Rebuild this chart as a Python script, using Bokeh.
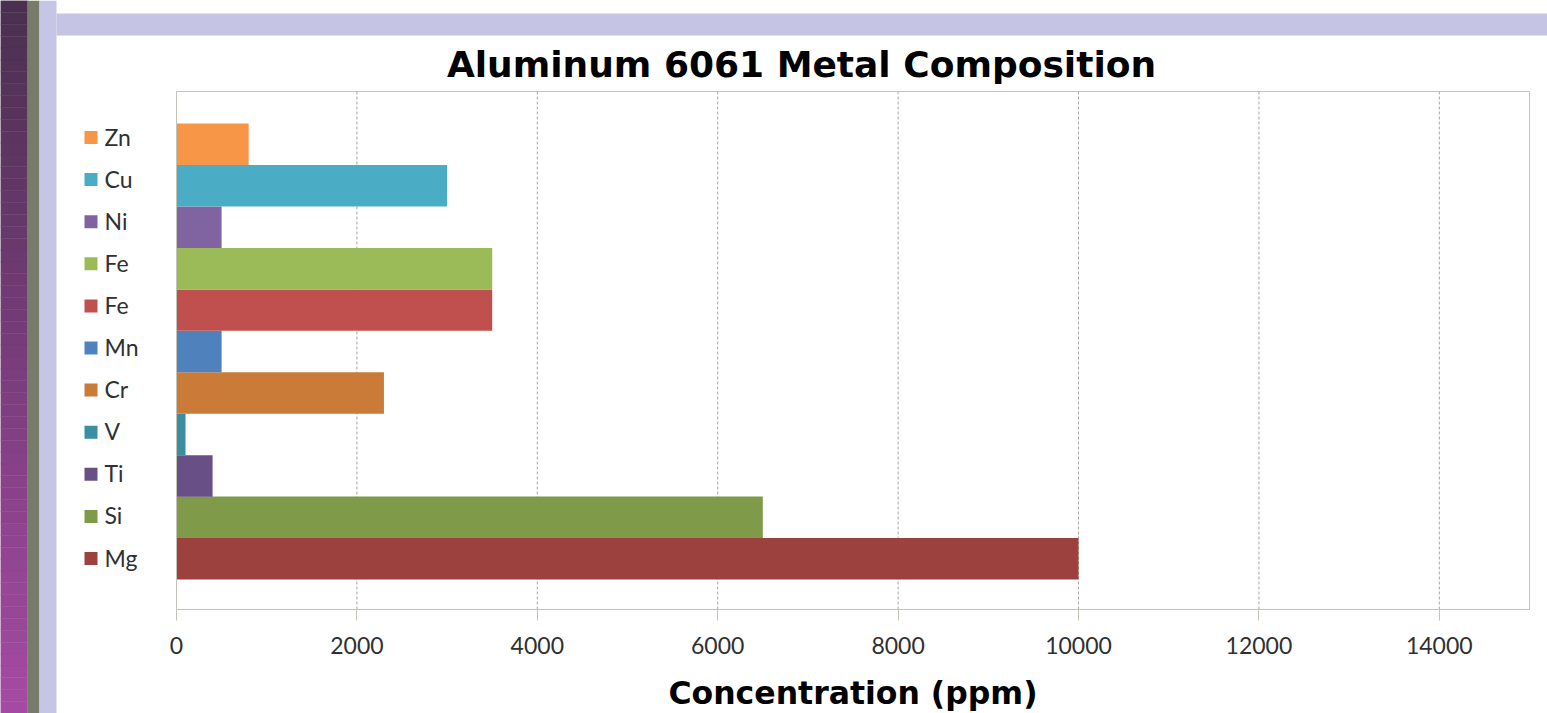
import numpy as np
from bokeh.plotting import figure
from bokeh.models import Range1d, LinearAxis, FixedTicker
from bokeh.core.properties import value
from bokeh.embed import file_html
from bokeh.resources import INLINE

# ---------------- data ----------------
elements = ["Mg", "Si", "Ti", "V", "Cr", "Mn", "Fe", "Fe", "Ni", "Cu", "Zn"]
concentration = [10000, 6500, 400, 100, 2300, 500, 3500, 3500, 500, 3000, 800]
bar_colors = ["#9D413F", "#7F9A48", "#684F86", "#3B8DA2", "#CB7B38",
              "#4F81BD", "#C0504D", "#9BBB59", "#8064A2", "#4BACC6", "#F79646"]
x_ticks = [0, 2000, 4000, 6000, 8000, 10000, 12000, 14000]
x_max = 15000
title_text = "Aluminum 6061 Metal Composition"
x_label = "Concentration (ppm)"

# ---------------- geometry (page pixels) ----------------
W, H = 1547, 713
OFF = 0
PLOT_L, PLOT_R, PLOT_T, PLOT_B = 176, 1529, 91, 609
PX_PER_X = (PLOT_R - PLOT_L) / x_max
PX_PER_Y = 41.45
Y0_PX = 558.3          # page y of category index 0 centre


def dx(px):
    return (px - PLOT_L) / PX_PER_X


def dy(py):
    return (Y0_PX - py) / PX_PER_Y


FONT = "Lato"
BOLD_FONT = "DejaVu Sans"
TXT = "#303030"
FRAME_COL = "#C3C3B8"

p = figure(width=W, height=H,
           x_range=Range1d(dx(OFF), dx(OFF + W)),
           y_range=Range1d(dy(OFF + H), dy(OFF)),
           x_axis_location=None, y_axis_location=None,
           toolbar_location=None, output_backend="svg",
           title_location=None, min_border=0)
p.outline_line_color = None
p.background_fill_color = "white"
p.border_fill_color = "white"
p.xgrid.visible = False
p.ygrid.visible = False

# ---------------- slide decoration ----------------
n = 60
edges = np.linspace(0, 713, n + 1)
c0 = np.array([0x4A, 0x30, 0x50])
c1 = np.array([0xA6, 0x4B, 0xA4])
cols = []
for i in range(n):
    t = (i + 0.5) / n
    c = (c0 + (c1 - c0) * t).astype(int)
    cols.append("#%02x%02x%02x" % tuple(c))
p.quad(left=[dx(0)] * n, right=[dx(27)] * n,
       top=[dy(e) for e in edges[:-1]], bottom=[dy(e) for e in edges[1:]],
       fill_color=cols, line_color=cols, line_width=0.5)
p.quad(left=[dx(27)], right=[dx(39)], top=[dy(0)], bottom=[dy(713)],
       fill_color="#777B6B", line_color=None)
p.quad(left=[dx(39)], right=[dx(56)], top=[dy(0)], bottom=[dy(713)],
       fill_color="#C6C5E5", line_color=None)
p.quad(left=[dx(56)], right=[dx(1547)], top=[dy(13)], bottom=[dy(35)],
       fill_color="#C5C4E4", line_color=None)

# ---------------- grid lines ----------------
grid_x = x_ticks[1:]
p.segment(x0=grid_x, x1=grid_x, y0=[dy(PLOT_B)] * len(grid_x),
          y1=[dy(PLOT_T)] * len(grid_x),
          line_color="#A8A8A0", line_dash="3 2", line_width=1)

# ---------------- bars ----------------
idx = list(range(len(elements)))
p.hbar(y=idx, left=0, right=concentration, height=1.0,
       fill_color=bar_colors, line_color=None)

# plot area border
p.quad(left=[0], right=[x_max], bottom=[dy(PLOT_B)], top=[dy(PLOT_T)],
       fill_color=None, line_color=FRAME_COL, line_width=1)

# ---------------- x axis ----------------
xaxis = LinearAxis(ticker=FixedTicker(ticks=x_ticks), fixed_location=dy(PLOT_B),
                   bounds=(0, x_max), axis_label=x_label)
xaxis.axis_line_color = FRAME_COL
xaxis.major_tick_line_color = FRAME_COL
xaxis.major_tick_out = 11
xaxis.major_tick_in = 0
xaxis.minor_tick_line_color = None
xaxis.major_label_text_font = FONT
xaxis.major_label_text_font_size = "23px"
xaxis.major_label_text_color = TXT
xaxis.major_label_standoff = 16
xaxis.axis_label_text_font = BOLD_FONT
xaxis.axis_label_text_font_style = "bold"
xaxis.axis_label_text_font_size = "31.5px"
xaxis.axis_label_text_color = "black"
xaxis.axis_label_standoff = 18
p.add_layout(xaxis, "below")

# ---------------- legend (left of plot) ----------------
LEG_FS = 23
leg_px = [558 - 42.1 * i for i in idx]
p.scatter(x=[dx(90.5)] * len(idx), y=[dy(v) for v in leg_px], marker="square",
          size=13, fill_color=bar_colors, line_color=None)
p.text(x=[dx(104)] * len(idx), y=[dy(v + 8 - 0.39 * LEG_FS) for v in leg_px],
       text=elements, text_font=value(FONT), text_font_size=f"{LEG_FS}px",
       text_color=TXT, text_baseline="alphabetic", text_align="left")

# ---------------- title ----------------
TITLE_FS = 36
p.text(x=[dx(801)], y=[dy(79 - 0.41 * TITLE_FS)], text=[title_text],
       text_font=value(BOLD_FONT), text_font_size=f"{TITLE_FS}px",
       text_font_style="bold", text_color="black",
       text_align="center", text_baseline="alphabetic")

open("out.html", "w").write(file_html(p, INLINE))
